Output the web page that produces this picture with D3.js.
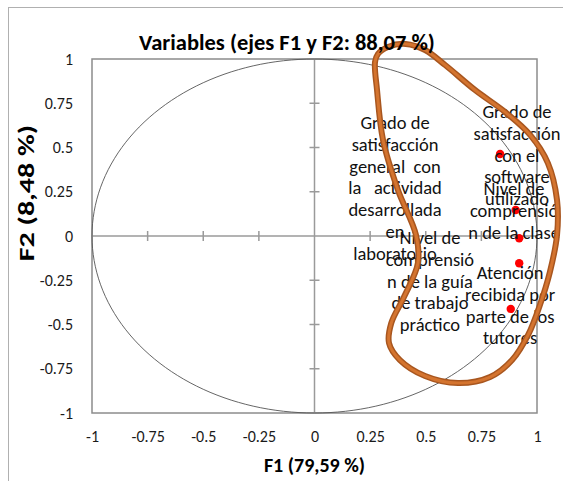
<!DOCTYPE html>
<html><head><meta charset="utf-8">
<script src="https://cdn.jsdelivr.net/npm/d3@7"></script>
<style>
html,body{margin:0;padding:0;background:#fff;}
svg{display:block;}
text{font-family:Carlito,Lato,"Open Sans",sans-serif;}
</style></head>
<body>
<svg id="chart" width="563" height="481"></svg>
<script>
// ---- data ----
const variables = [
  "Grado de satisfacción con el software utilizado",
  "Nivel de comprensión de la clase",
  "Grado de satisfacción general con la actividad desarrollada en laboratorio",
  "Nivel de comprensión de la guía de trabajo práctico",
  "Atención recibida por parte de los tutores"
];
const f1 = [0.834, 0.904, 0.920, 0.920, 0.882];
const f2 = [0.463, 0.147, -0.013, -0.154, -0.412];

const tickValues = [-1, -0.75, -0.5, -0.25, 0, 0.25, 0.5, 0.75, 1];
const innerTicks = [-0.75, -0.5, -0.25, 0.25, 0.5, 0.75];

const title = "Variables (ejes F1 y F2: 88,07 %)";
const xTitle = "F1 (79,59 %)";
const yTitle = "F2 (8,48 %)";

// label text blocks and their anchors (data space: centre x, first baseline y)
const labelLines = [
  ["Grado de", "satisfacción", "con el", "software", "utilizado"],
  ["Nivel de", "comprensió", "n de la clase"],
  ["Grado de", "satisfacción", "general  con", "la   actividad", "desarrollada", "en", "laboratorio"],
  ["Nivel de", "comprensió", "n de la guía", "de trabajo", "práctico"],
  ["Atención", "recibida por", "parte de los", "tutores"]
];
const labelAnchorX = [0.910, 0.897, 0.362, 0.519, 0.879];
const labelAnchorY = [0.667, 0.232, 0.605, -0.045, -0.243];

// hand-drawn highlight loop (data space)
const loopX = [0.272,0.281,0.308,0.375,0.456,0.465,0.402,0.345,0.335,0.384,0.497,0.645,0.789,0.888,0.960,1.013,1.058,1.090,1.090,1.049,0.969,0.856,0.721,0.587,0.497,0.410,0.330,0.285];
const loopY = [0.983,0.825,0.542,0.260,0.006,-0.153,-0.345,-0.492,-0.605,-0.701,-0.791,-0.831,-0.797,-0.701,-0.559,-0.390,-0.203,0.006,0.203,0.412,0.571,0.701,0.825,0.966,1.051,1.085,1.068,1.028];

// ---- layout ----
const svg = d3.select("#chart");
const L = 92, R = 537, T = 59, B = 413;
const x = d3.scaleLinear().domain([-1, 1]).range([L, R]);
const y = d3.scaleLinear().domain([-1, 1]).range([B, T]);
const FONT = "Carlito,Lato,'Open Sans',sans-serif";

// outer frame lines
svg.append("line").attr("x1", 8.5).attr("x2", 8.5).attr("y1", 7).attr("y2", 481)
  .attr("stroke", "#b0b0b0").attr("stroke-width", 1);
svg.append("line").attr("x1", 8).attr("x2", 563).attr("y1", 7.5).attr("y2", 7.5)
  .attr("stroke", "#b0b0b0").attr("stroke-width", 1);

// plot border
svg.append("rect").attr("x", L).attr("y", T).attr("width", R - L).attr("height", B - T)
  .attr("fill", "none").attr("stroke", "#8c8c8c").attr("stroke-width", 1.5);

// central axes
const g = svg.append("g");
g.append("line").attr("x1", x(-1)).attr("x2", x(1)).attr("y1", y(0)).attr("y2", y(0))
  .attr("stroke", "#9a9a9a").attr("stroke-width", 1.5);
g.append("line").attr("x1", x(0)).attr("x2", x(0)).attr("y1", y(-1)).attr("y2", y(1))
  .attr("stroke", "#9a9a9a").attr("stroke-width", 1.5);
g.selectAll(".xt").data(innerTicks).join("line")
  .attr("x1", d => x(d)).attr("x2", d => x(d)).attr("y1", y(0) - 5).attr("y2", y(0) + 5)
  .attr("stroke", "#9a9a9a").attr("stroke-width", 1.5);
g.selectAll(".yt").data(innerTicks).join("line")
  .attr("y1", d => y(d)).attr("y2", d => y(d)).attr("x1", x(0) - 5).attr("x2", x(0) + 5)
  .attr("stroke", "#9a9a9a").attr("stroke-width", 1.5);

// correlation circle
const circ = d3.range(0, 361, 2).map(a => [Math.cos(a * Math.PI / 180), Math.sin(a * Math.PI / 180)]);
svg.append("path")
  .attr("d", d3.line().x(d => x(d[0])).y(d => y(d[1]))(circ))
  .attr("fill", "none").attr("stroke", "#555").attr("stroke-width", 0.9);

// tick labels via axes
const fmt = d => String(d);
const xAxis = svg.append("g").attr("transform", `translate(0,${B + 18})`)
  .call(d3.axisBottom(x).tickValues(tickValues).tickFormat(fmt).tickSize(0).tickPadding(0));
xAxis.select(".domain").remove();
xAxis.selectAll("text").attr("font-size", 16).attr("fill", "#1a1a1a").attr("font-family", FONT);

const yAxis = svg.append("g").attr("transform", `translate(${L - 19},0)`)
  .call(d3.axisLeft(y).tickValues(tickValues).tickFormat(fmt).tickSize(0).tickPadding(0));
yAxis.select(".domain").remove();
yAxis.selectAll("text").attr("font-size", 16).attr("fill", "#1a1a1a").attr("font-family", FONT);

// points
svg.selectAll(".pt").data(variables).join("circle")
  .attr("cx", (d, i) => x(f1[i])).attr("cy", (d, i) => y(f2[i])).attr("r", 4.2)
  .attr("fill", "#ff0000");

// labels
labelLines.forEach((lines, i) => {
  const t = svg.append("text").attr("text-anchor", "middle")
    .attr("font-size", 18.5).attr("fill", "#111")
    .attr("x", x(labelAnchorX[i])).attr("y", y(labelAnchorY[i]))
    .style("white-space", "pre");
  lines.forEach((ln, j) => {
    t.append("tspan").attr("x", x(labelAnchorX[i])).attr("dy", j === 0 ? 0 : 21.8).text(ln);
  });
});

// highlight loop
const loopPts = loopX.map((v, i) => [v, loopY[i]]);
const loopLine = d3.line().x(d => x(d[0])).y(d => y(d[1])).curve(d3.curveCatmullRomClosed.alpha(0.5));
svg.append("path").attr("d", loopLine(loopPts)).attr("fill", "none")
  .attr("stroke", "#a8561f").attr("stroke-width", 6).attr("stroke-linejoin", "round");
svg.append("path").attr("d", loopLine(loopPts)).attr("fill", "none")
  .attr("stroke", "#d4742f").attr("stroke-width", 3).attr("stroke-linejoin", "round");

// titles
svg.append("text").attr("x", 287).attr("y", 50).attr("text-anchor", "middle")
  .attr("font-size", 22.5).attr("font-weight", "bold").attr("fill", "#000").text(title);
svg.append("text").attr("x", x(0)).attr("y", 472).attr("text-anchor", "middle")
  .attr("font-size", 20).attr("font-weight", "bold").attr("fill", "#000").text(xTitle);
svg.append("text").attr("transform", `translate(34,${y(0) - 43}) rotate(-90) scale(1,0.72)`).attr("text-anchor", "middle")
  .attr("font-size", 30).attr("font-weight", "bold").attr("fill", "#000").text(yTitle);
</script>
</body></html>
